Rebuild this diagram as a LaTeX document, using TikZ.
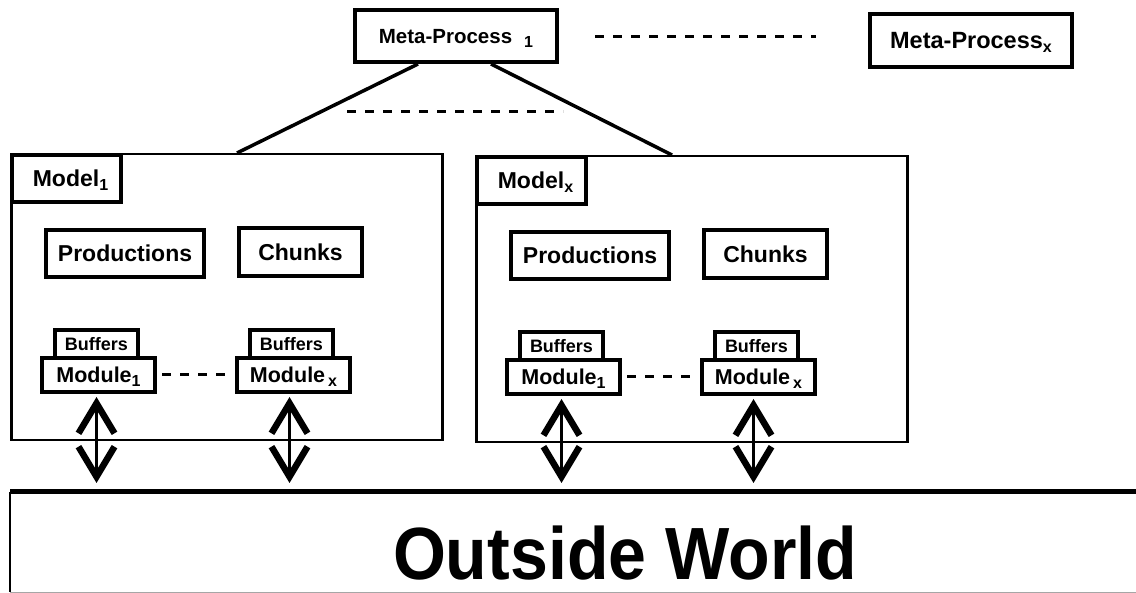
\documentclass[tikz,border=0pt]{standalone}
\usepackage{fontspec}
\setmainfont{Liberation Sans}
\usetikzlibrary{arrows.meta,calc}

% lowered bold index, as in Model_1, Module_x
\newcommand\lowsub[1]{\raisebox{-4pt}{\fontsize{16pt}{16pt}\selectfont\bfseries #1}}

\tikzset{
  box/.style={draw, line width=4pt, fill=white, inner sep=0pt, text depth=0pt},
  modelbox/.style={draw, line width=2.5pt, fill=white, inner sep=0pt,
    minimum width=431pt, minimum height=286pt},
  fmeta/.style={font=\fontsize{20.5pt}{21pt}\selectfont\bfseries, text height=15pt},
  fmetax/.style={font=\fontsize{23.5pt}{24pt}\selectfont\bfseries, text height=17pt},
  fbig/.style={font=\fontsize{23pt}{23pt}\selectfont\bfseries, text height=16.5pt},
  fmod/.style={font=\fontsize{21.5pt}{22pt}\selectfont\bfseries, text height=15.5pt},
  fbuf/.style={font=\fontsize{18pt}{18pt}\selectfont\bfseries, text height=13pt},
  fworld/.style={font=\fontsize{74pt}{74pt}\selectfont\bfseries, text height=53pt,
    text depth=0pt, inner sep=0pt, xscale=0.92},
  link/.style={line width=3.5pt},
  dots/.style={line width=3pt, dash pattern=on 9pt off 9pt},
  >={Straight Barb[length=30pt,width=36pt,line width=6.5pt]},
  io/.style={line width=3pt, <->, shorten <=3pt, shorten >=9pt},
}

% one model: outer frame, name tab, productions, chunks, two modules with buffers
\newcommand\modelblock[3]{%
  \begin{scope}[shift={(#2)}]
    \node[modelbox, anchor=north west] (#1box) at (10,153) {};
    \node[box, fbig, anchor=north west, minimum width=109pt, minimum height=47pt]
      (#1lbl) at (#1box.north west) {\hspace{8pt}Model\lowsub{#3}};
    \node[box, fbig, minimum width=158pt, minimum height=47pt] (#1prod) at (125,253.5) {Productions};
    \node[box, fbig, minimum width=123pt, minimum height=48pt] (#1chunk) at (300.5,252.5) {Chunks\hspace{10pt}};
    \node[box, fbuf, minimum width=83pt, minimum height=28pt] (#1b1) at (96.5,344) {Buffers};
    \node[box, fmod, minimum width=113pt, minimum height=34pt] (#1m1) at (98.5,375) {Module\lowsub{1}};
    \node[box, fbuf, minimum width=83pt, minimum height=28pt] (#1bx) at (291.5,344) {Buffers};
    \node[box, fmod, minimum width=113pt, minimum height=34pt] (#1mx) at (293.5,375) {Module\hspace{3pt}\lowsub{x}};
  \end{scope}
  \draw[dots, shorten <=5pt, shorten >=7pt] (#1m1.east) -- (#1mx.west);
}

\begin{document}
\begin{tikzpicture}[x=1pt, y=-1pt]
  \clip (0,0) rectangle (1136,593);
  \fill[white] (0,0) rectangle (1136,593);

  % meta-processes
  \node[box, fmeta, minimum width=202pt, minimum height=52pt] (mp1) at (456,36)
    {Meta-Process\hspace{12pt}\lowsub{1}};
  \node[box, fmetax, minimum width=202pt, minimum height=53pt] (mpx) at (971,40.5)
    {Meta-Process\lowsub{x}};
  \coordinate (topa) at (595,37);
  \coordinate (topb) at (816,37);
  \draw[dots] (topa) -- (topb);

  % models
  \modelblock{L}{0,0}{1}
  \modelblock{R}{465,2}{x}

  \draw[link] ($(mp1.south west)+(65,0)$) -- ($(Lbox.north west)+(227,0)$);
  \draw[link] ($(mp1.south west)+(138,0)$) -- ($(Rbox.north west)+(197,0)$);
  \coordinate (mida) at (347,112);
  \coordinate (midb) at (563,112);
  \draw[dots] (mida) -- (midb);

  % outside world
  \node[anchor=north west, minimum width=1200pt, minimum height=100pt, inner sep=0pt] (ow) at (10,492) {};
  \draw[line width=2.5pt] (ow.north west) -- (ow.south west);
  \draw[line width=1pt, black!35] (ow.south west) -- (ow.south east);
  \draw[line width=5pt] (ow.north west) -- (ow.north east);
  \node[fworld] (owtext) at (625,553) {Outside World};

  % module <-> outside world
  \foreach \m/\dx in {Lm1/-2, Lmx/-4, Rm1/-2, Rmx/-5} {
    \coordinate (\m-io) at ($(\m.south)+(\dx,0)$);
    \draw[io] (\m-io) -- (\m-io |- ow.north);
  }
\end{tikzpicture}
\end{document}
